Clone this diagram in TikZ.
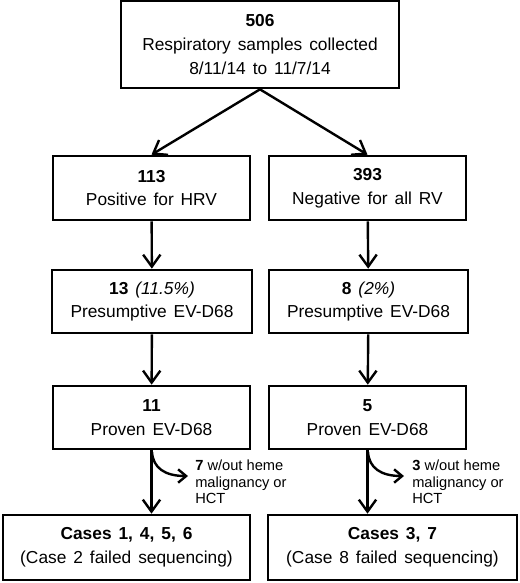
\documentclass[tikz,border=0pt]{standalone}
\usepackage{fontspec}
\setmainfont{Liberation Sans}
\usetikzlibrary{arrows.meta}
\newcommand\myboxfont{\fontsize{13}{17.8}\selectfont\spaceskip=0.4em plus 0.1em minus 0.05em\relax}
\tikzset{
  box/.style={draw=black, line width=2pt, fill=white, align=center, inner sep=0pt,
    font=\myboxfont},
  conn/.style={line width=1.8pt, -{Straight Barb[length=9pt,width=13pt,line width=1.8pt]}},
  side/.style={line width=1.8pt, -{Straight Barb[length=6pt,width=10pt,line width=1.8pt]}},
  sidelabel/.style={align=left, inner sep=0pt, anchor=west, font=\fontsize{11}{12.3}\selectfont}
}
\begin{document}
\begin{tikzpicture}[x=0.75pt,y=-0.75pt]
\useasboundingbox (0,0) rectangle (520,583);
% top
\node[box, minimum width=278*0.75pt, minimum height=87*0.75pt] (top) at (260,44.5)
  {\textbf{506}\\Respiratory samples collected\\8/11/14 to 11/7/14};
% row 2
\node[box, minimum width=197*0.75pt, minimum height=64*0.75pt] (pos) at (151.5,188)
  {\textbf{113}\\Positive for HRV};
\node[box, minimum width=197*0.75pt, minimum height=64*0.75pt] (neg) at (367.5,188)
  {\textbf{393}\\Negative for all RV};
% row 3
\node[box, minimum width=200*0.75pt, minimum height=63*0.75pt] (pres1) at (152,301.5)
  {\textbf{13} \textit{(11.5\%)}\\Presumptive EV-D68};
\node[box, minimum width=199*0.75pt, minimum height=63*0.75pt] (pres2) at (368.5,301.5)
  {\textbf{8} \textit{(2\%)}\\Presumptive EV-D68};
% row 4
\node[box, minimum width=197*0.75pt, minimum height=63*0.75pt] (prov1) at (151.5,417.5)
  {\textbf{11}\\Proven EV-D68};
\node[box, minimum width=197*0.75pt, minimum height=63*0.75pt] (prov2) at (367.5,417.5)
  {\textbf{5}\\Proven EV-D68};
% row 5
\node[box, minimum width=247*0.75pt, minimum height=65*0.75pt] (cases1) at (126.5,547.5)
  {\textbf{Cases 1, 4, 5, 6}\\(Case 2 failed sequencing)};
\node[box, minimum width=249*0.75pt, minimum height=65*0.75pt] (cases2) at (392.5,547.5)
  {\textbf{Cases 3, 7}\\(Case 8 failed sequencing)};
% connectors
\draw[conn] (top.south) -- (pos.north);
\draw[conn] (top.south) -- (neg.north);
\draw[conn] (pos) -- (pres1);
\draw[conn] (neg) -- (pres2);
\draw[conn] (pres1) -- (prov1);
\draw[conn] (pres2) -- (prov2);
\draw[conn] (prov1.south) -- (prov1.south |- cases1.north);
\draw[conn] (prov2.south) -- (prov2.south |- cases2.north);
% side branches
\coordinate (b1) at (152,452);
\coordinate (e1) at (188,476);
\coordinate (b2) at (368,452);
\coordinate (e2) at (404,476);
\draw[side] (b1) .. controls (153,468) and (165,476) .. (e1);
\draw[side] (b2) .. controls (369,468) and (381,476) .. (e2);
\node[sidelabel] (lab1) at (195,482) {\textbf{7} w/out heme\\malignancy or\\HCT};
\node[sidelabel] (lab2) at (412,482) {\textbf{3} w/out heme\\malignancy or\\HCT};
\end{tikzpicture}
\end{document}
